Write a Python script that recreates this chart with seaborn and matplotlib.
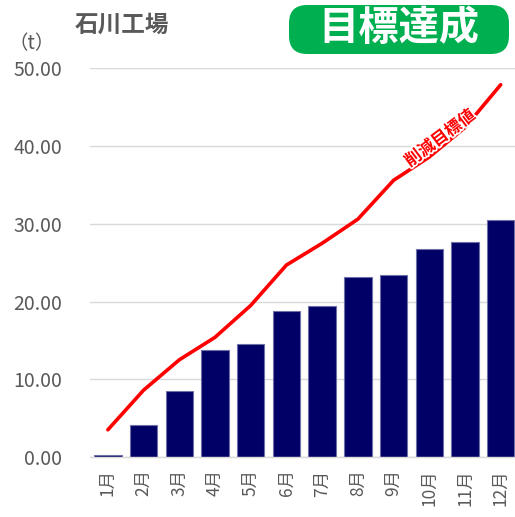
import numpy as np
import matplotlib
matplotlib.use("Agg")
import matplotlib.pyplot as plt
import matplotlib.patheffects as pe
from matplotlib.patches import FancyBboxPatch
import seaborn as sns

months = ["1月", "2月", "3月", "4月", "5月", "6月", "7月", "8月", "9月", "10月", "11月", "12月"]
actual = [0.2, 4.1, 8.5, 13.8, 14.6, 18.8, 19.4, 23.1, 23.4, 26.7, 27.6, 30.5]
target = [3.5, 8.6, 12.5, 15.4, 19.5, 24.7, 27.5, 30.6, 35.6, 38.6, 42.4, 47.9]
yticks = [0, 10, 20, 30, 40, 50]

sns.set_theme(style="white")
plt.rcParams['font.family'] = ['Noto Sans CJK JP', 'DejaVu Sans']

fig = plt.figure(figsize=(5.15, 5.17), dpi=100)
ax = fig.add_axes([90/515, (517-457)/517, (515-90)/515, (457-68)/517])

sns.barplot(x=months, y=actual, color="#000066", width=0.77, saturation=1,
            edgecolor="#7070a8", linewidth=0.8, ax=ax, zorder=2)
sns.lineplot(x=np.arange(len(months)), y=target, color="#ff0000", linewidth=2.6,
             ax=ax, zorder=3)

ax.set_xlim(-0.5, 11.4)
ax.set_ylim(0, 50.05)
ax.set_yticks(yticks)
ax.set_yticklabels([f"{v:.2f}" for v in yticks], fontsize=14, color="#595959")
ax.set_xticks(np.arange(len(months)))
ax.set_xticklabels(months, rotation=90, fontsize=12.5, color="#595959")
ax.tick_params(axis='y', pad=20, length=0)
ax.tick_params(axis='x', pad=9, length=0)
ax.yaxis.grid(True, color="#d9d9d9", linewidth=1)
ax.set_axisbelow(True)
for s in ["top", "right", "left"]:
    ax.spines[s].set_visible(False)
ax.spines["bottom"].set_color("#d9d9d9")
ax.spines["bottom"].set_linewidth(1)

ax.text(9.3, 41.0, "削減目標値", rotation=37, color="#ff0000", fontsize=12,
        fontweight="bold", ha="center", va="center", zorder=4,
        path_effects=[pe.withStroke(linewidth=2.5, foreground="white")])

fig.text(75/515, 1-25/517, "石川工場", fontsize=17, fontweight="bold",
         color="#595959", ha="left", va="center")
fig.text(32/515, 1-44/517, "（t）", fontsize=14, color="#595959",
         ha="center", va="center")

box = FancyBboxPatch((289/515, 1-54/517), (509-289)/515, (54-5)/517,
                     boxstyle="round,pad=0,rounding_size=0.035",
                     transform=fig.transFigure, facecolor="#00b050",
                     edgecolor="none")
fig.patches.append(box)
fig.text(399/515, 1-28/517, "目標達成", fontsize=29, fontweight="bold",
         color="white", ha="center", va="center")

fig.savefig("out.png", dpi=100)
